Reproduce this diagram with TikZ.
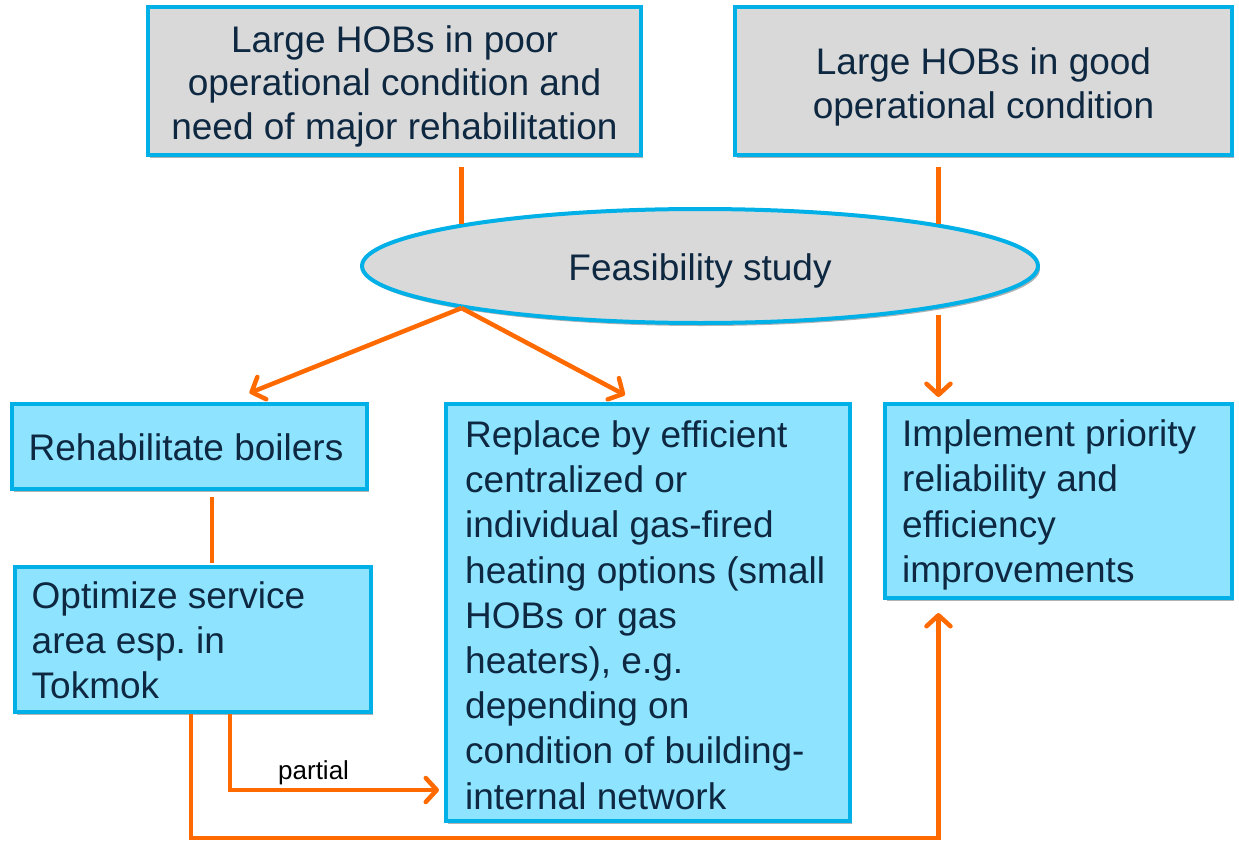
\documentclass[tikz,border=0pt]{standalone}
\usepackage{fontspec}
\setmainfont{Liberation Sans}
\usetikzlibrary{arrows.meta,shapes.geometric,shadows}
\definecolor{cyanb}{HTML}{00B0E6}
\definecolor{grayf}{HTML}{D9D9D9}
\definecolor{bluef}{HTML}{8EE3FE}
\definecolor{navy}{HTML}{0E2841}
\definecolor{orng}{HTML}{FF6A00}
\frenchspacing
\begin{document}
\begin{tikzpicture}[x=1pt,y=-1pt,
  box/.style={draw=cyanb, line width=4pt, inner sep=0pt,
    drop shadow={shadow xshift=2pt, shadow yshift=-3pt, opacity=0.3, fill=black}},
  graybox/.style={box, fill=grayf},
  bluebox/.style={box, fill=bluef},
  graytxt/.style={text=navy, align=center, inner sep=0pt,
    font=\fontsize{37}{43.5}\selectfont},
  bluetxt/.style={text=navy, align=left, inner sep=0pt, anchor=west,
    font=\fontsize{37}{45.2}\selectfont},
  conn/.style={draw=orng, line width=4.5pt},
  arr/.style={conn, -{Straight Barb[length=11pt,width=24pt,round]}}
]
\useasboundingbox (0,0) rectangle (1239,843);

% top boxes
\node[graybox, minimum width=493pt, minimum height=148pt] (box1) at (394.5,81) {};
\node[graytxt] (box1t) at ([yshift=-5pt]box1.center)
  {Large HOBs in poor\\operational condition and\\need of major rehabilitation};
\node[graybox, minimum width=497pt, minimum height=148pt] (box2) at (983.5,81) {};
\node[graytxt] (box2t) at ([yshift=-6pt]box2.center)
  {Large HOBs in good\\operational condition};

% feasibility ellipse
\node[ellipse, draw=cyanb, line width=4pt, fill=grayf, inner sep=0pt,
  minimum width=676pt, minimum height=114pt,
  drop shadow={shadow xshift=2pt, shadow yshift=-3pt, opacity=0.3, fill=black}]
  (fs) at (700,266) {};
\node[graytxt] (fst) at ([yshift=-5pt]fs.center) {Feasibility study};

% lower boxes
\node[bluebox, minimum width=355pt, minimum height=85pt] (rehab) at (189.5,446.5) {};
\node[bluetxt] (rehabt) at ([xshift=18.5pt,yshift=-1pt]rehab.west) {Rehabilitate boilers};

\node[bluebox, minimum width=356pt, minimum height=145pt] (opt) at (193,639.5) {};
\node[bluetxt] (optt) at ([xshift=18.5pt,yshift=-1pt]opt.west)
  {Optimize service\\area esp. in\\Tokmok};

\node[bluebox, minimum width=404pt, minimum height=417pt] (rep) at (648,612.5) {};
\node[bluetxt] (rept) at ([xshift=21pt,yshift=-2.5pt]rep.west)
  {Replace by efficient\\centralized or\\individual gas-fired\\heating options (small\\HOBs or gas\\heaters), e.g.\\depending on\\condition of building-\\internal network};

\node[bluebox, minimum width=347pt, minimum height=194pt] (impl) at (1058.5,501) {};
\node[bluetxt] (implt) at ([xshift=19pt,yshift=-4pt]impl.west)
  {Implement priority\\reliability and\\efficiency\\improvements};

% helper coordinates
\coordinate (fsL) at (fs.170);
\coordinate (fsR) at (fs.10);
\coordinate (fsBL) at (fs.-170);
\coordinate (fsBR) at (fs.-10);
\coordinate (implTop) at ([yshift=5pt]impl.north);
\coordinate (implBot) at ([yshift=-13pt]impl.south);
\coordinate (repIn) at ([xshift=-5pt,yshift=-177.5pt]rep.west);

% connectors
\draw[conn] (box1.south -| fsL) ++(0,10) -- (fsL);
\draw[conn] (box2.south -| fsR) ++(0,10) -- (fsR);
\draw[arr] (fsBR) ++(0,7) -- (implTop -| fsBR);
\draw[arr] (fsBL) -- ([xshift=60pt,yshift=9pt]rehab.north);
\draw[arr] (fsBL) -- ([xshift=-23pt,yshift=7pt]rep.north);
\draw[conn] ([xshift=22.5pt,yshift=-6pt]rehab.south) -- ([xshift=19pt,yshift=2pt]opt.north);
\draw[arr] ([xshift=-2pt]opt.south) -- ++(0,124) -| (implBot -| fsBR);
\draw[arr] ([xshift=37pt]opt.south) |- (repIn)
  node[pos=0.7, above, inner sep=3pt, font=\fontsize{26}{30}\selectfont, text=black] (plbl) {partial};
\end{tikzpicture}
\end{document}
